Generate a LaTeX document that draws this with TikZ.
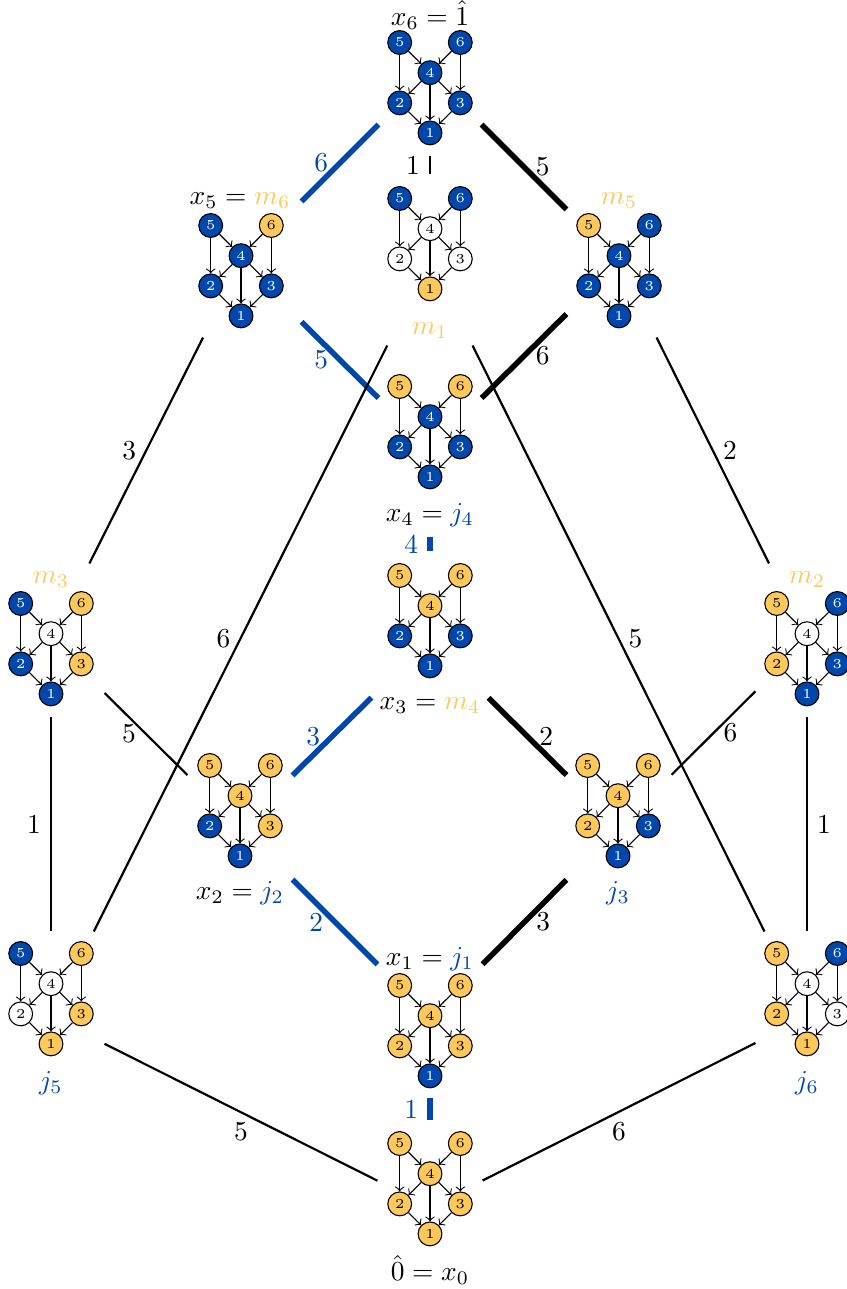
\documentclass[tikz,border=0pt]{standalone}
\usepackage{amsmath}
\usepackage{xcolor}
\usetikzlibrary{positioning}
\definecolor{latblue}{RGB}{0,71,171}
\definecolor{latyellow}{RGB}{255,200,90}
\tikzset{
	elt/.style={circle,draw,inner sep=0pt,minimum size=8.7pt,font=\tiny},
	yel/.style={elt,fill=latyellow},
	blu/.style={elt,fill=latblue,text=white},
	wht/.style={elt,fill=white},
	box/.style 2 args={rectangle,inner sep=0pt,minimum width=2*#1*0.365pt,minimum height=2*#2*0.365pt},
	edge/.style={thick},
	chainb/.style={line width=2pt,latblue},
	chaink/.style={line width=2pt,black}
}
% one small poset: name, centre x, top y, then the colours of 5,6,4,2,3,1
\newcommand{\hasse}[9]{
	\node[#4] (#1-5) at (#2-30.3,#3+0.5) {5};
	\node[#5] (#1-6) at (#2+30.3,#3+0.5) {6};
	\node[#6] (#1-4) at (#2,#3+30.7) {4};
	\node[#7] (#1-2) at (#2-30.3,#3+60.9) {2};
	\node[#8] (#1-3) at (#2+30.3,#3+60.9) {3};
	\node[#9] (#1-1) at (#2,#3+90.9) {1};
	\draw[->] (#1-5)--(#1-4);
	\draw[->] (#1-6)--(#1-4);
	\draw[->] (#1-5)--(#1-2);
	\draw[->] (#1-6)--(#1-3);
	\draw[->] (#1-4)--(#1-2);
	\draw[->] (#1-4)--(#1-3);
	\draw[->] (#1-4)--(#1-1);
	\draw[->] (#1-2)--(#1-1);
	\draw[->] (#1-3)--(#1-1);
}
\begin{document}
\begin{tikzpicture}[x=0.365pt,y={(0pt,-0.365pt)}]
	\useasboundingbox (0,0) rectangle (847,1289);
	% the lattice elements, as boxes the edges stop at
	\node[box={51}{82}] (x6) at (430,73) {};
	\node[box={60}{85}] (m1) at (430,260) {};
	\node[box={60}{75}] (x5) at (241,262) {};
	\node[box={52}{75}] (m5) at (619,262) {};
	\node[box={51}{87}] (x4) at (430,449) {};
	\node[box={58}{88}] (x3) at (430,640) {};
	\node[box={53}{76}] (m3) at (51,640) {};
	\node[box={51}{76}] (m2) at (807,640) {};
	\node[box={52}{75}] (x2) at (240,827) {};
	\node[box={52}{75}] (j3) at (619,827) {};
	\node[box={52}{80}] (x1) at (430,1017) {};
	\node[box={53}{85}] (j5) at (51,1017) {};
	\node[box={51}{85}] (j6) at (807,1017) {};
	\node[box={52}{86}] (x0) at (430,1207) {};
	% the small posets
	\hasse{px6}{430}{42}{blu}{blu}{blu}{blu}{blu}{blu}
	\hasse{pm1}{430}{198}{blu}{blu}{wht}{wht}{wht}{yel}
	\hasse{px5}{241}{225}{blu}{yel}{blu}{blu}{blu}{blu}
	\hasse{pm5}{619}{225}{yel}{blu}{blu}{blu}{blu}{blu}
	\hasse{px4}{430}{386}{yel}{yel}{blu}{blu}{blu}{blu}
	\hasse{px3}{430}{575}{yel}{yel}{yel}{blu}{blu}{blu}
	\hasse{pm3}{51}{603}{blu}{yel}{wht}{blu}{yel}{blu}
	\hasse{pm2}{807}{603}{yel}{blu}{wht}{yel}{blu}{blu}
	\hasse{px2}{240}{765}{yel}{yel}{yel}{blu}{yel}{blu}
	\hasse{pj3}{618}{765}{yel}{yel}{yel}{yel}{blu}{blu}
	\hasse{px1}{430}{985}{yel}{yel}{yel}{yel}{yel}{blu}
	\hasse{pj5}{51}{953}{blu}{yel}{wht}{wht}{yel}{yel}
	\hasse{pj6}{807}{953}{yel}{blu}{wht}{yel}{wht}{yel}
	\hasse{px0}{430}{1143}{yel}{yel}{yel}{yel}{yel}{yel}
	% their names
	\node (tx6) at (430,15) {$x_6=\hat{1}$};
	\node (tm1) at (430,331) {$\textcolor{latyellow}{m_1}$};
	\node (tx5) at (240,201) {$x_5=\textcolor{latyellow}{m_6}$};
	\node (tm5) at (619,201) {$\textcolor{latyellow}{m_5}$};
	\node (tx4) at (430,515) {$x_4=\textcolor{latblue}{j_4}$};
	\node (tx3) at (430,706) {$x_3=\textcolor{latyellow}{m_4}$};
	\node (tm3) at (51,580) {$\textcolor{latyellow}{m_3}$};
	\node (tm2) at (807,580) {$\textcolor{latyellow}{m_2}$};
	\node (tx2) at (240,893) {$x_2=\textcolor{latblue}{j_2}$};
	\node (tj3) at (618,893) {$\textcolor{latblue}{j_3}$};
	\node (tx1) at (430,959) {$x_1=\textcolor{latblue}{j_1}$};
	\node (tj5) at (51,1083) {$\textcolor{latblue}{j_5}$};
	\node (tj6) at (807,1083) {$\textcolor{latblue}{j_6}$};
	\node (tx0) at (430,1270) {$\hat{0}=x_0$};
	% blue chain
	\draw[chainb] (x6)--(x5) node[midway,left]{6};
	\draw[chainb] (x5)--(x4) node[midway,left]{5};
	\draw[chainb] (x4)--(x3) node[midway,left]{4};
	\draw[chainb] (x3)--(x2) node[midway,left]{3};
	\draw[chainb] (x2)--(x1) node[midway,left]{2};
	\draw[chainb] (x1)--(x0) node[midway,left]{1};
	% black chain
	\draw[chaink] (x6)--(m5) node[midway,right]{5};
	\draw[chaink] (m5)--(x4) node[midway,right]{6};
	\draw[chaink] (x3)--(j3) node[midway,right]{2};
	\draw[chaink] (j3)--(x1) node[midway,right]{3};
	% the rest
	\draw[edge] (x6)--(m1) node[midway,left]{1};
	\draw[edge] (m1)--(j5) node[midway,left]{6};
	\draw[edge] (m1)--(j6) node[midway,right]{5};
	\draw[edge] (x5)--(m3) node[midway,left]{3};
	\draw[edge] (m5)--(m2) node[midway,right]{2};
	\draw[edge] (m3)--(x2) node[midway,left]{5};
	\draw[edge] (m3)--(j5) node[midway,left]{1};
	\draw[edge] (m2)--(j3) node[midway,right]{6};
	\draw[edge] (m2)--(j6) node[midway,right]{1};
	\draw[edge] (j5)--(x0) node[midway,below]{5};
	\draw[edge] (j6)--(x0) node[midway,below]{6};
\end{tikzpicture}
\end{document}
